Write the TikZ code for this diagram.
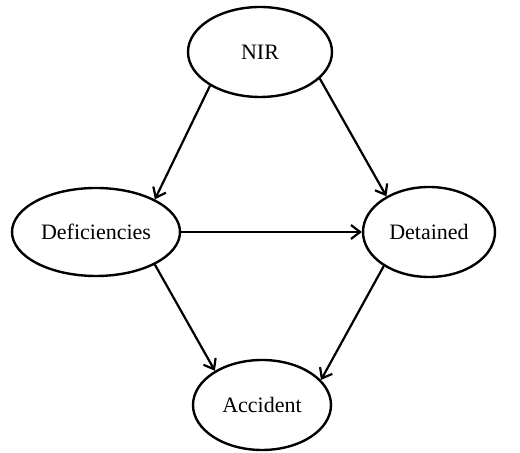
\documentclass[tikz,border=0pt]{standalone}
\usepackage{fontspec}
\setmainfont{Liberation Serif}
\usetikzlibrary{positioning, arrows.meta, shapes.geometric}

\begin{document}
\begin{tikzpicture}[
    x=0.5pt, y=-0.5pt,      % 参照画像のピクセル座標で配置
    >={Straight Barb[length=4.5pt, width=7pt]},
    font=\fontsize{11}{13}\selectfont,
    % 楕円ノードのスタイル
    factor/.style={ellipse, draw, line width=1.2pt, inner sep=0pt},
    % 矢印のスタイル
    link/.style={->, line width=1.1pt}
]
    \useasboundingbox (0,0) rectangle (520,453);

    % --- 1. 楕円ノード ---
    \node [factor, minimum width=72pt, minimum height=45pt] (nir) at (260,52) {NIR};
    \node [factor, minimum width=84pt, minimum height=44pt] (defic) at (96,232) {Deficiencies};
    \node [factor, minimum width=66pt, minimum height=45pt] (detained) at (429,232) {Detained};
    \node [factor, minimum width=69pt, minimum height=45pt] (accident) at (262,405) {Accident};

    % --- 2. 矢印 ---
    \draw [link] (nir.214) -- (defic.29);
    \draw [link] (nir.336) -- (detained.140);
    \draw [link] (defic.east) -- (detained.west);
    \draw [link] (defic.331) -- (accident.144);
    \draw [link] (detained.217) -- (accident.23);

\end{tikzpicture}
\end{document}
